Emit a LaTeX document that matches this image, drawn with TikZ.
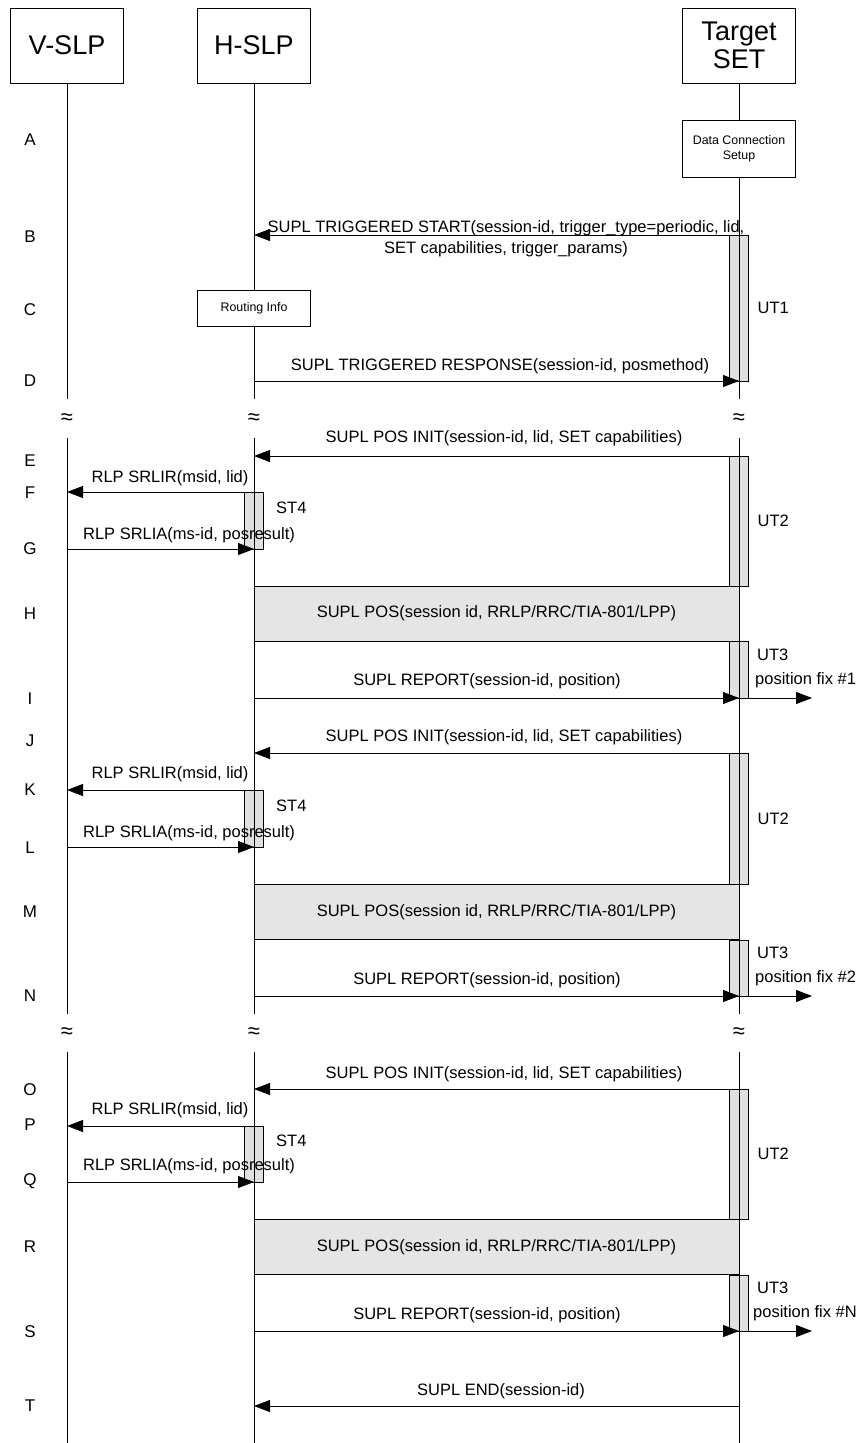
\documentclass[tikz,border=0pt]{standalone}
\usepackage{fontspec}
\setmainfont{Liberation Sans}
\usetikzlibrary{arrows.meta,positioning,calc}

\begin{document}
\begin{tikzpicture}[
    x=1pt, y=-1pt,
    entity/.style={rectangle, draw, line width=0.8pt, minimum width=113pt, minimum height=75pt, inner sep=0pt, align=center, font=\fontsize{27}{28}\selectfont},
    smallbox/.style={rectangle, draw, line width=0.8pt, fill=white, minimum width=113pt, inner sep=0pt, align=center, font=\fontsize{12.4}{15}\selectfont},
    posbox/.style={rectangle, draw, line width=0.8pt, fill=black!10, minimum width=485pt, minimum height=55pt, inner sep=0pt, font=\fontsize{16.5}{19}\selectfont},
    timer/.style={rectangle, draw, line width=0.8pt, fill=black!12, minimum width=19pt, inner sep=0pt},
    life/.style={line width=0.8pt},
    msg/.style={-{Triangle[length=16pt, width=12pt]}, line width=0.8pt},
    msgtxt/.style={inner sep=0pt, align=center, font=\fontsize{16.5}{21}\selectfont},
    steplbl/.style={inner sep=0pt, font=\fontsize{17}{19}\selectfont},
    timerlbl/.style={inner sep=0pt, anchor=west, font=\fontsize{16.5}{19}\selectfont},
    gap/.style={inner sep=0pt, font=\fontsize{22}{22}\selectfont}
]
\useasboundingbox (0,0) rectangle (860,1443);

% entities
\node[entity] (vslp) at (67,45.5) {V-SLP};
\node[entity] (hslp) at (254,45.5) {H-SLP};
\node[entity] (tset) at (739,45.5) {Target\\SET};

% message rows
\coordinate (rB) at (0,235);
\coordinate (rD) at (0,381);
\coordinate (rE) at (0,456);
\coordinate (rF) at (0,492);
\coordinate (rG) at (0,549);
\coordinate (rI) at (0,698);
\coordinate (rJ) at (0,753);
\coordinate (rK) at (0,790);
\coordinate (rL) at (0,847);
\coordinate (rN) at (0,996);
\coordinate (rO) at (0,1089);
\coordinate (rP) at (0,1126);
\coordinate (rQ) at (0,1182);
\coordinate (rS) at (0,1331);
\coordinate (rT) at (0,1406);

% breaks in the lifelines
\coordinate (cut1) at (0,399);
\coordinate (wave1) at (0,419);
\coordinate (res1) at (0,438);
\coordinate (cut2) at (0,1014);
\coordinate (wave2) at (0,1033);
\coordinate (res2) at (0,1052);
\coordinate (bottom) at (0,1443);

% timers
\node[timer, minimum height=146pt] (ut1) at (738.5,308) {};
\node[timer, minimum height=130pt] (ut2a) at (738.5,521) {};
\node[timer, minimum height=57pt] (st4a) at (254,520.5) {};
\node[timer, minimum height=57pt] (ut3a) at (738.5,670) {};
\node[timer, minimum height=131pt] (ut2b) at (738.5,818.5) {};
\node[timer, minimum height=57pt] (st4b) at (254,818.5) {};
\node[timer, minimum height=56pt] (ut3b) at (738.5,968) {};
\node[timer, minimum height=130pt] (ut2c) at (738.5,1154) {};
\node[timer, minimum height=56pt] (st4c) at (254,1154) {};
\node[timer, minimum height=56pt] (ut3c) at (738.5,1303) {};

% lifelines
\draw[life] (vslp.south) -- (vslp |- cut1);
\draw[life] (hslp.south) -- (hslp |- cut1);
\draw[life] (tset.south) -- (tset |- cut1);
\draw[life] (vslp |- res1) -- (vslp |- cut2);
\draw[life] (hslp |- res1) -- (hslp |- cut2);
\draw[life] (tset |- res1) -- (tset |- cut2);
\draw[life] (vslp |- res2) -- (vslp |- bottom);
\draw[life] (hslp |- res2) -- (hslp |- bottom);
\draw[life] (tset |- res2) -- (tset |- bottom);

\node[gap] (gapv1) at (vslp |- wave1) {≈};
\node[gap] (gaph1) at (hslp |- wave1) {≈};
\node[gap] (gapt1) at (tset |- wave1) {≈};
\node[gap] (gapv2) at (vslp |- wave2) {≈};
\node[gap] (gaph2) at (hslp |- wave2) {≈};
\node[gap] (gapt2) at (tset |- wave2) {≈};

% local boxes
\node[smallbox, minimum height=57pt] (dcs) at (739,148.5) {Data Connection\\Setup};
\node[smallbox, minimum height=36pt] (routing) at (254,308) {Routing Info};

\node[posbox] (posH) at (496.5,613.5) {SUPL POS(session id, RRLP/RRC/TIA-801/LPP)};
\node[posbox] (posM) at (496.5,912) {SUPL POS(session id, RRLP/RRC/TIA-801/LPP)};
\node[posbox] (posR) at (496.5,1247) {SUPL POS(session id, RRLP/RRC/TIA-801/LPP)};

% messages
\draw[msg] (tset |- rB) -- (hslp |- rB);
\node[msgtxt] (txtB) at (506,238.5) {SUPL TRIGGERED START(session-id, trigger\_type=periodic, lid,\\SET capabilities, trigger\_params)};
\draw[msg] (hslp |- rD) -- (tset |- rD);
\node[msgtxt] (txtD) at (500,366) {SUPL TRIGGERED RESPONSE(session-id, posmethod)};

\draw[msg] (tset |- rE) -- (hslp |- rE);
\node[msgtxt] (txtE) at (504,438) {SUPL POS INIT(session-id, lid, SET capabilities)};
\draw[msg] (hslp |- rF) -- (vslp |- rF);
\node[msgtxt] (txtF) at (170,478) {RLP SRLIR(msid, lid)};
\draw[msg] (vslp |- rG) -- (hslp |- rG);
\node[msgtxt] (txtG) at (189,535) {RLP SRLIA(ms-id, posresult)};
\draw[msg] (hslp |- rI) -- (tset |- rI);
\node[msgtxt] (txtI) at (487,681) {SUPL REPORT(session-id, position)};

\draw[msg] (tset |- rJ) -- (hslp |- rJ);
\node[msgtxt] (txtJ) at (504,737) {SUPL POS INIT(session-id, lid, SET capabilities)};
\draw[msg] (hslp |- rK) -- (vslp |- rK);
\node[msgtxt] (txtK) at (170,774) {RLP SRLIR(msid, lid)};
\draw[msg] (vslp |- rL) -- (hslp |- rL);
\node[msgtxt] (txtL) at (189,833) {RLP SRLIA(ms-id, posresult)};
\draw[msg] (hslp |- rN) -- (tset |- rN);
\node[msgtxt] (txtN) at (487,980) {SUPL REPORT(session-id, position)};

\draw[msg] (tset |- rO) -- (hslp |- rO);
\node[msgtxt] (txtO) at (504,1074) {SUPL POS INIT(session-id, lid, SET capabilities)};
\draw[msg] (hslp |- rP) -- (vslp |- rP);
\node[msgtxt] (txtP) at (170,1110) {RLP SRLIR(msid, lid)};
\draw[msg] (vslp |- rQ) -- (hslp |- rQ);
\node[msgtxt] (txtQ) at (189,1166) {RLP SRLIA(ms-id, posresult)};
\draw[msg] (hslp |- rS) -- (tset |- rS);
\node[msgtxt] (txtS) at (487,1315) {SUPL REPORT(session-id, position)};

\draw[msg] (tset |- rT) -- (hslp |- rT);
\node[msgtxt] (txtT) at (501,1391) {SUPL END(session-id)};

% position fixes
\coordinate (fix1) at (812,698);
\coordinate (fix2) at (812,996);
\coordinate (fixN) at (812,1331);
\draw[msg] (ut3a.east |- rI) -- (fix1);
\draw[msg] (ut3b.east |- rN) -- (fix2);
\draw[msg] (ut3c.east |- rS) -- (fixN);
\node[timerlbl] (lfix1) at (755,680) {position fix \#1};
\node[timerlbl] (lfix2) at (755,978) {position fix \#2};
\node[timerlbl] (lfixN) at (753,1313) {position fix \#N};

% timer labels
\node[timerlbl, right=9pt of ut1] (lut1) {UT1};
\node[timerlbl, right=9pt of ut2a] (lut2a) {UT2};
\node[timerlbl, right=9pt of ut2b] (lut2b) {UT2};
\node[timerlbl, right=9pt of ut2c] (lut2c) {UT2};
\node[timerlbl] (lst4a) at (276,508) {ST4};
\node[timerlbl] (lst4b) at (276,806) {ST4};
\node[timerlbl] (lst4c) at (276,1141) {ST4};
\node[timerlbl] (lut3a) at (757,655) {UT3};
\node[timerlbl] (lut3b) at (757,953) {UT3};
\node[timerlbl] (lut3c) at (757,1288) {UT3};

% step letters
\node[steplbl] (lA) at (30,140) {A};
\node[steplbl] (lB) at (30,237) {B};
\node[steplbl] (lC) at (30,310) {C};
\node[steplbl] (lD) at (30,381) {D};
\node[steplbl] (lE) at (30,461) {E};
\node[steplbl] (lF) at (30,493) {F};
\node[steplbl] (lG) at (30,549) {G};
\node[steplbl] (lH) at (30,614) {H};
\node[steplbl] (lI) at (30,699) {I};
\node[steplbl] (lJ) at (30,741) {J};
\node[steplbl] (lK) at (30,790) {K};
\node[steplbl] (lL) at (30,848) {L};
\node[steplbl] (lM) at (30,912) {M};
\node[steplbl] (lN) at (30,996) {N};
\node[steplbl] (lO) at (30,1090) {O};
\node[steplbl] (lP) at (30,1125) {P};
\node[steplbl] (lQ) at (30,1181) {Q};
\node[steplbl] (lR) at (30,1247) {R};
\node[steplbl] (lS) at (30,1332) {S};
\node[steplbl] (lT) at (30,1406) {T};
\end{tikzpicture}
\end{document}
